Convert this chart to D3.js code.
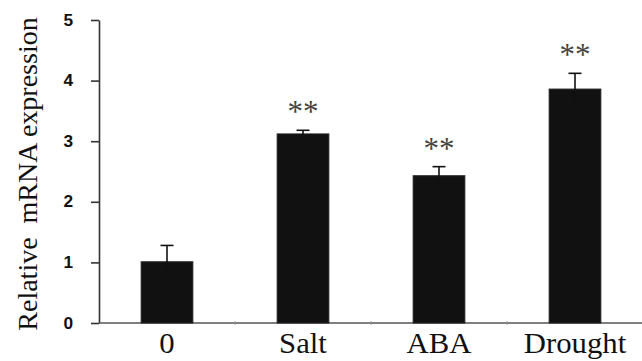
<!DOCTYPE html>
<html>
<head>
<meta charset="utf-8">
<script src="https://cdn.jsdelivr.net/npm/d3@7"></script>
<style>
  body { margin: 0; background: #fff; }
  svg { display: block; }
</style>
</head>
<body>
<div id="chart"></div>
<script>
// data
const categories = ["0", "Salt", "ABA", "Drought"];
const means = [1.01, 3.12, 2.43, 3.86];
const errors = [0.27, 0.06, 0.15, 0.26];
const marks = ["", "**", "**", "**"];
const yTicks = [0, 1, 2, 3, 4, 5];

const W = 642, H = 361;

const svg = d3.select("#chart").append("svg")
  .attr("width", W)
  .attr("height", H);

const x = d3.scaleBand()
  .domain(categories)
  .range([99, 643])
  .paddingInner(0.62)
  .paddingOuter(0.31);

const y = d3.scaleLinear()
  .domain([0, 5])
  .range([323, 20]);

// y axis
const yAxis = svg.append("g")
  .attr("transform", "translate(99,0)")
  .call(d3.axisLeft(y).tickValues(yTicks).tickFormat(d3.format("d"))
    .tickSize(8).tickPadding(16).tickSizeOuter(0));
yAxis.select(".domain").attr("stroke", "#333").attr("stroke-width", 1.6);
yAxis.selectAll(".tick line").attr("stroke", "#333").attr("stroke-width", 1.6);
yAxis.selectAll(".tick text")
  .attr("fill", "#111")
  .style("font-family", "'Liberation Sans', Arial, sans-serif")
  .style("font-weight", "bold")
  .style("font-size", "16px")
  .attr("transform", "scale(1.08,1)");

// x axis line, runs to the right edge
const xAxis = svg.append("g")
  .attr("transform", "translate(0,323)")
  .call(d3.axisBottom(x).tickSize(0).tickPadding(9).tickSizeOuter(0));
xAxis.select(".domain").attr("d", "M99,0H642").attr("stroke", "#555").attr("stroke-width", 1.6);
xAxis.selectAll(".tick text")
  .attr("fill", "#111")
  .attr("dy", "0.71em")
  .style("font-family", "'Liberation Serif', 'Times New Roman', serif")
  .style("font-size", "29px")
  .attr("transform", "scale(1.06,1)");

// faint ticks at the band boundaries
svg.append("g").selectAll("line")
  .data(categories.slice(1))
  .join("line")
  .attr("x1", d => x(d) - x.step() * x.paddingInner() / 2)
  .attr("x2", d => x(d) - x.step() * x.paddingInner() / 2)
  .attr("y1", 321)
  .attr("y2", 325)
  .attr("stroke", "#999")
  .attr("stroke-width", 1);

// bars
svg.append("g").selectAll("rect")
  .data(categories)
  .join("rect")
  .attr("x", d => x(d))
  .attr("y", (d, i) => y(means[i]))
  .attr("width", x.bandwidth())
  .attr("height", (d, i) => y(0) - y(means[i]))
  .attr("fill", "#111")
  .attr("stroke", "#222")
  .attr("stroke-width", 1);

// error bars
const err = svg.append("g").attr("stroke", "#111").attr("stroke-width", 1.6);
categories.forEach((c, i) => {
  const cx = x(c) + x.bandwidth() / 2;
  const top = y(means[i] + errors[i]);
  const bot = y(means[i] - errors[i]);
  err.append("line").attr("x1", cx).attr("x2", cx).attr("y1", top).attr("y2", bot);
  err.append("line").attr("x1", cx - 6.5).attr("x2", cx + 6.5).attr("y1", top).attr("y2", top);
});

// significance marks
svg.append("g").selectAll("text")
  .data(categories)
  .join("text")
  .attr("x", d => x(d) + x.bandwidth() / 2)
  .attr("y", (d, i) => y(means[i] + errors[i]) - 8)
  .attr("text-anchor", "middle")
  .attr("fill", "#444")
  .style("font-family", "'Liberation Serif', 'Times New Roman', serif")
  .style("font-size", "31px")
  .text((d, i) => marks[i]);

// y title
svg.append("text")
  .attr("transform", "translate(37,174) rotate(-90)")
  .attr("text-anchor", "middle")
  .attr("fill", "#111")
  .style("font-family", "'Liberation Serif', 'Times New Roman', serif")
  .style("font-size", "28px")
  .style("white-space", "pre")
  .text("Relative  mRNA expression");
</script>
</body>
</html>
